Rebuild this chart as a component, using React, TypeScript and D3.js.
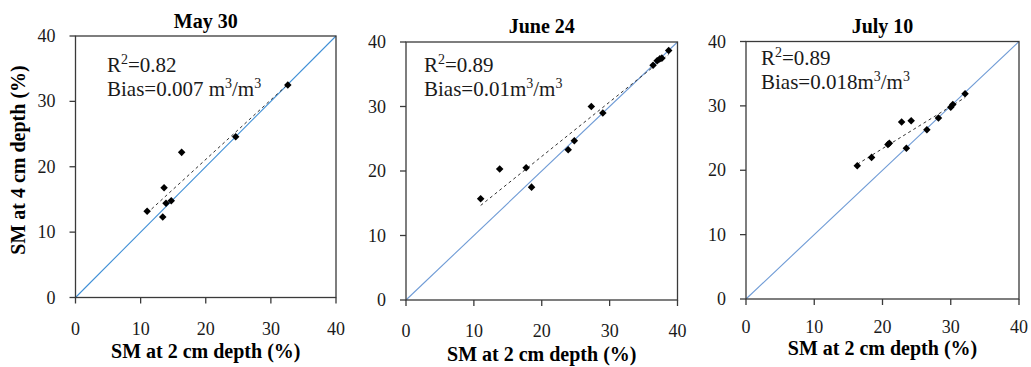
import React from "react";
import * as d3 from "d3";

// axis ticks shared by all three panels (SM in %)
const tickValues = [0, 10, 20, 30, 40];
const domainSM = [0, 40];

const panelTitles = ["May 30", "June 24", "July 10"];
const r2Values = ["0.82", "0.89", "0.89"];
const biasValues = ["0.007 ", "0.01", "0.018"];

// SM at 2 cm (x) vs SM at 4 cm (y)
const may30X = [11.0, 13.4, 13.6, 13.9, 14.7, 16.3, 24.6, 32.6];
const may30Y = [13.2, 12.3, 16.8, 14.4, 14.8, 22.2, 24.6, 32.5];

const june24X = [11.0, 13.8, 17.7, 18.5, 23.9, 24.8, 27.3, 29.0, 36.4, 37.0, 37.4, 37.7, 38.7];
const june24Y = [15.7, 20.3, 20.5, 17.5, 23.3, 24.7, 30.0, 29.0, 36.4, 37.1, 37.4, 37.5, 38.7];

const july10X = [16.3, 18.4, 20.8, 21.0, 22.8, 24.2, 23.5, 26.5, 28.2, 30.0, 30.3, 32.1];
const july10Y = [20.7, 22.0, 24.0, 24.2, 27.5, 27.7, 23.4, 26.3, 28.1, 29.8, 30.2, 31.9];

const seriesX = [may30X, june24X, july10X];
const seriesY = [may30Y, june24Y, july10Y];

// pixel frames of the three plot boxes
const frames = [
  { left: 75.5, right: 336, top: 36, bottom: 297.5, titleY: 28, annX: 107, annY: 72, tickY: 335, labelY: 358, oneColor: "#3f8fd6" },
  { left: 406, right: 677.5, top: 42, bottom: 300, titleY: 33, annX: 424, annY: 72, tickY: 337, labelY: 361, oneColor: "#6f9bd6" },
  { left: 746, right: 1019, top: 41.5, bottom: 299, titleY: 33, annX: 761, annY: 65, tickY: 333, labelY: 355, oneColor: "#6f9bd6" },
];

const serif = "Liberation Serif, Times New Roman, serif";

function fitLine(xs: number[], ys: number[]) {
  const mx = d3.mean(xs) as number;
  const my = d3.mean(ys) as number;
  let num = 0;
  let den = 0;
  xs.forEach((v, i) => {
    num += (v - mx) * (ys[i] - my);
    den += (v - mx) * (v - mx);
  });
  const slope = num / den;
  const icpt = my - slope * mx;
  const [x0, x1] = d3.extent(xs) as [number, number];
  return [
    [x0, icpt + slope * x0],
    [x1, icpt + slope * x1],
  ];
}

function Panel({ idx }: { idx: number }) {
  const f = frames[idx];
  const xs = seriesX[idx];
  const ys = seriesY[idx];
  const x = d3.scaleLinear().domain(domainSM).range([f.left, f.right]);
  const y = d3.scaleLinear().domain(domainSM).range([f.bottom, f.top]);
  const line = d3
    .line<number[]>()
    .x((d) => x(d[0]))
    .y((d) => y(d[1]));
  const diamond = d3.symbol().type(d3.symbolDiamond2).size(36)();
  const fit = fitLine(xs, ys);
  const cx = (f.left + f.right) / 2;

  return (
    <g>
      {/* 1:1 line */}
      <path d={line([[0, 0], [40, 40]]) as string} stroke={f.oneColor} strokeWidth={1.1} fill="none" />
      {/* regression line */}
      <path
        d={line(fit) as string}
        stroke="#333"
        strokeWidth={1}
        strokeDasharray="3,3"
        fill="none"
      />
      {xs.map((v, i) => (
        <path key={i} d={diamond as string} transform={`translate(${x(v)},${y(ys[i])})`} fill="#000" />
      ))}
      {/* frame */}
      <rect
        x={f.left}
        y={f.top}
        width={f.right - f.left}
        height={f.bottom - f.top}
        fill="none"
        stroke="#3a3a3a"
        strokeWidth={1.3}
      />
      {tickValues.map((t) => (
        <g key={t}>
          <line x1={f.left - 6} x2={f.left} y1={y(t)} y2={y(t)} stroke="#3a3a3a" strokeWidth={1.3} />
          <line x1={x(t)} x2={x(t)} y1={f.bottom} y2={f.bottom + 6} stroke="#3a3a3a" strokeWidth={1.3} />
          <text x={f.left - 20} y={y(t) + 6} textAnchor="end" fontSize={18} fill="#1a1a1a">
            {t}
          </text>
          <text x={x(t)} y={f.tickY} textAnchor="middle" fontSize={18} fill="#1a1a1a">
            {t}
          </text>
        </g>
      ))}
      <text x={cx} y={f.titleY} textAnchor="middle" fontSize={20} fontWeight="bold" fill="#000">
        {panelTitles[idx]}
      </text>
      <text x={cx} y={f.labelY} textAnchor="middle" fontSize={20} fontWeight="bold" fill="#000">
        SM at 2 cm depth (%)
      </text>
      <text x={f.annX} y={f.annY} fontSize={21} fill="#1a1a1a">
        R<tspan fontSize={14} dy={-8}>2</tspan>
        <tspan dy={8}>={r2Values[idx]}</tspan>
      </text>
      <text x={f.annX} y={f.annY + 24} fontSize={21} fill="#1a1a1a">
        Bias={biasValues[idx]}m<tspan fontSize={14} dy={-8}>3</tspan>
        <tspan dy={8}>/m</tspan>
        <tspan fontSize={14} dy={-8}>3</tspan>
      </text>
      {idx === 0 && (
        <text
          transform={`translate(25,160) rotate(-90)`}
          textAnchor="middle"
          fontSize={20}
          fontWeight="bold"
          fill="#000"
        >
          SM at 4 cm depth (%)
        </text>
      )}
    </g>
  );
}

export default function App() {
  return (
    <svg
      width={1031}
      height={367}
      style={{ display: "block", position: "absolute", left: 0, top: 0, background: "#fff", fontFamily: serif }}
    >
      <rect width={1031} height={367} fill="#fff" />
      {frames.map((_, i) => (
        <Panel key={i} idx={i} />
      ))}
    </svg>
  );
}
